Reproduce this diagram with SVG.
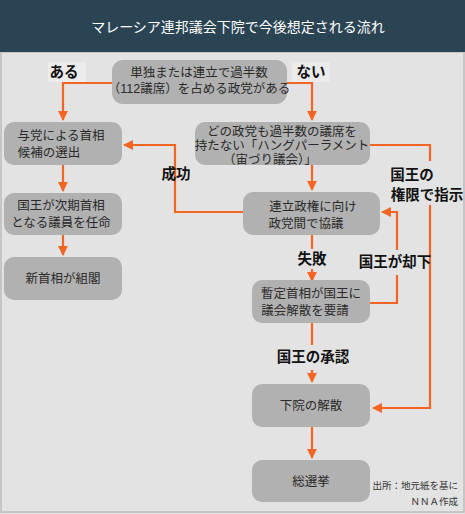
<svg xmlns="http://www.w3.org/2000/svg" width="465" height="514" viewBox="0 0 465 514">
<defs>
<style>
.box{fill:#b1b1b1;}
.bt{font-family:"Liberation Sans","Noto Sans CJK JP",sans-serif;font-size:12.5px;fill:#2a2a2a;text-anchor:middle;}
.lb{font-family:"Liberation Sans","Noto Sans CJK JP",sans-serif;font-size:14.5px;font-weight:bold;fill:#111;text-anchor:middle;}
.ln{fill:none;stroke:#f26522;stroke-width:2.2;}
.src{font-family:"Liberation Sans","Noto Sans CJK JP",sans-serif;font-size:9.5px;fill:#333;text-anchor:end;}
</style>
<marker id="ah" viewBox="0 0 10 10" refX="9" refY="5" markerWidth="4.5" markerHeight="4.5" orient="auto" markerUnits="strokeWidth">
<path d="M0,0 L10,5 L0,10 z" fill="#f26522"/>
</marker>
</defs>
<rect x="0" y="0" width="465" height="514" fill="#e3e3e3"/>
<rect x="1" y="52" width="463" height="460" fill="none" stroke="#bdbdbd" stroke-width="1.5"/>
<rect x="0" y="0" width="465" height="52" fill="#2b4454"/>
<text x="238" y="32" font-family="'Liberation Sans','Noto Sans CJK JP',sans-serif" font-size="14px" fill="#ffffff" text-anchor="middle">マレーシア連邦議会下院で今後想定される流れ</text>

<g id="connectors">
<polyline class="ln" points="112,83 63,83 63,120" marker-end="url(#ah)"/>
<polyline class="ln" points="287,83 312,83 312,120" marker-end="url(#ah)"/>
<line class="ln" x1="63" y1="165" x2="63" y2="191" marker-end="url(#ah)"/>
<line class="ln" x1="63" y1="235" x2="63" y2="255" marker-end="url(#ah)"/>
<line class="ln" x1="312" y1="165" x2="312" y2="190" marker-end="url(#ah)"/>
<polyline class="ln" points="243,212 175,212 175,145 124,145" marker-end="url(#ah)"/>
<line class="ln" x1="312" y1="235" x2="312" y2="249"/>
<line class="ln" x1="312" y1="269" x2="312" y2="281" marker-end="url(#ah)"/>
<polyline class="ln" points="370,303 397,303 397,275"/>
<polyline class="ln" points="397,250 397,212 382,212" marker-end="url(#ah)"/>
<polyline class="ln" points="370,145 430,145 430,161"/>
<polyline class="ln" points="430,205 430,408 373,408" marker-end="url(#ah)"/>
<line class="ln" x1="312" y1="323" x2="312" y2="345"/>
<line class="ln" x1="312" y1="370" x2="312" y2="382" marker-end="url(#ah)"/>
<line class="ln" x1="312" y1="427" x2="312" y2="458" marker-end="url(#ah)"/>
</g>

<g id="labels">
<rect x="48" y="62" width="38" height="20" fill="#ececec"/>
<text class="lb" x="64" y="77">ある</text>
<rect x="292" y="62" width="38" height="20" fill="#ececec"/>
<text class="lb" x="311" y="77">ない</text>
<text class="lb" x="176" y="179" font-size="15.5px">成功</text>
<text class="lb"><tspan x="412" y="180">国王の</tspan><tspan x="427" y="200">権限で指示</tspan></text>
<text class="lb" x="312" y="264">失敗</text>
<text class="lb" x="395" y="267">国王が却下</text>
<text class="lb" x="313" y="362">国王の承認</text>
</g>

<g id="n-top">
<rect class="box" x="112" y="60" width="175" height="44" rx="11"/>
<text class="bt" font-size="13px"><tspan x="199" y="77">単独または連立で過半数</tspan><tspan x="199" y="93">（112議席）を占める政党がある</tspan></text>
</g>
<g id="n-yoto">
<rect class="box" x="4" y="122" width="118" height="43" rx="10"/>
<text class="bt"><tspan x="61" y="140">与党による首相</tspan><tspan x="49" y="157">候補の選出</tspan></text>
</g>
<g id="n-ninmei">
<rect class="box" x="4" y="193" width="118" height="42" rx="10"/>
<text class="bt"><tspan x="61" y="210">国王が次期首相</tspan><tspan x="61" y="227">となる議員を任命</tspan></text>
</g>
<g id="n-sokaku">
<rect class="box" x="4" y="257" width="118" height="43" rx="10"/>
<text class="bt" x="63" y="283">新首相が組閣</text>
</g>
<g id="n-hung">
<rect class="box" x="195" y="122" width="175" height="43" rx="10"/>
<text class="bt" font-size="12px"><tspan x="282" y="136">どの政党も過半数の議席を</tspan><tspan x="282" y="150">持たない「ハングパーラメント</tspan><tspan x="270" y="164">（宙づり議会）」</tspan></text>
</g>
<g id="n-renritsu">
<rect class="box" x="243" y="192" width="137" height="43" rx="10"/>
<text class="bt"><tspan x="313" y="211">連立政権に向け</tspan><tspan x="306" y="228">政党間で協議</tspan></text>
</g>
<g id="n-zantei">
<rect class="box" x="252" y="280" width="118" height="43" rx="10"/>
<text class="bt"><tspan x="311" y="298">暫定首相が国王に</tspan><tspan x="305" y="315">議会解散を要請</tspan></text>
</g>
<g id="n-kaisan">
<rect class="box" x="252" y="384" width="118" height="43" rx="10"/>
<text class="bt" x="311" y="410">下院の解散</text>
</g>
<g id="n-senkyo">
<rect class="box" x="252" y="460" width="118" height="42" rx="10"/>
<text class="bt" x="311" y="486">総選挙</text>
</g>
<text class="src" x="458" y="489">出所：地元紙を基に</text>
<text class="src" x="458" y="505">ＮＮＡ作成</text>
</svg>
